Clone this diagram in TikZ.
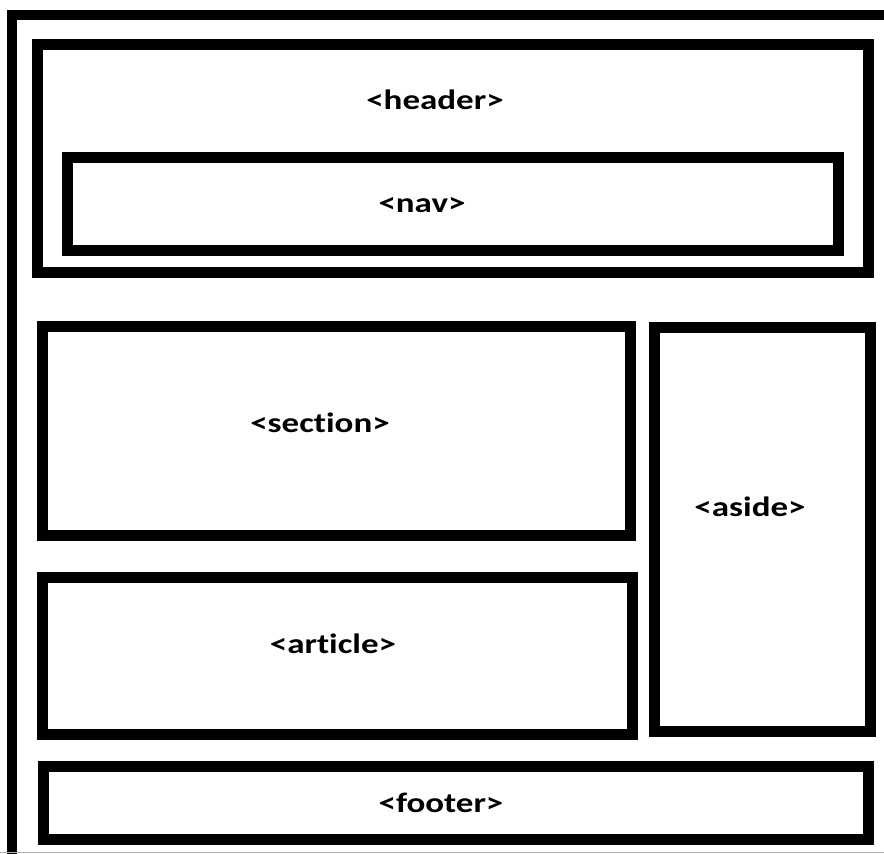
\documentclass[tikz,border=0pt]{standalone}
\usepackage{fontspec}
\setmainfont{Carlito}[Ligatures={NoCommon,NoContextual}]
\begin{document}
\begin{tikzpicture}[x=1pt,y=-1pt,
  box/.style={draw=black,line width=11pt,line join=miter},
  lbl/.style={font=\fontsize{28}{32}\selectfont\bfseries,inner sep=0pt,xscale=1.25}]
\useasboundingbox (0,0) rectangle (884,854);
\fill[white] (0,0) rectangle (884,854);
% outer frame
\coordinate (otl) at (12,15);
\coordinate (otr) at (884,15);
\coordinate (obl) at (12,854);
\draw[line width=10pt,line join=miter] (otr) -- (otl) -- (obl);
\coordinate (bl) at (0,852.5);
\coordinate (br) at (884,852.5);
\draw[gray!60,line width=1.2pt] (bl) -- (br);
% boxes
\draw[box] (37.5,44.5) rectangle (868,272.5);
\draw[box] (67.5,157) rectangle (838,250.5);
\draw[box] (42.5,326) rectangle (630.5,535.5);
\draw[box] (42.5,577.5) rectangle (632.5,734);
\draw[box] (654.5,327.5) rectangle (870.5,731);
\draw[box] (43.5,766) rectangle (868,839);
% labels
\node[lbl] (header) at (435,100) {<header>};
\node[lbl] (nav) at (422,205) {<nav>};
\node[lbl] (section) at (320,423) {<section>};
\node[lbl] (aside) at (750,507) {<aside>};
\node[lbl] (article) at (333,644) {<article>};
\node[lbl] (footer) at (441,803) {<footer>};
\end{tikzpicture}
\end{document}
